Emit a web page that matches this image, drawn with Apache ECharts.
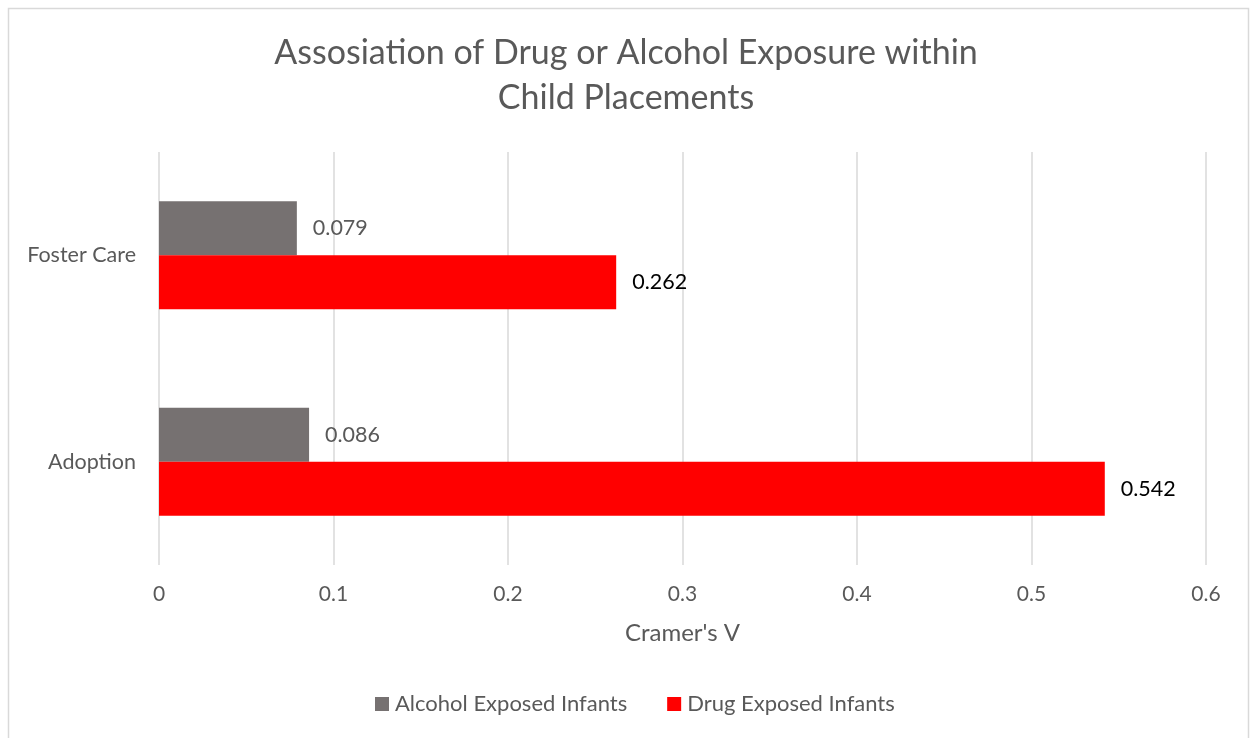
<!DOCTYPE html>
<html>
<head>
<meta charset="utf-8">
<script src="https://cdn.jsdelivr.net/npm/echarts@6/dist/echarts.min.js"></script>
<style>
html,body{margin:0;padding:0;background:#fff;}
#c{width:1252px;height:738px;}
</style>
</head>
<body>
<div id="c"></div>
<script>
const categories = ['Adoption', 'Foster Care'];
const seriesNames = ['Alcohol Exposed Infants', 'Drug Exposed Infants'];
const alcoholValues = [0.086, 0.079];
const drugValues = [0.542, 0.262];
const xTicks = [0, 0.1, 0.2, 0.3, 0.4, 0.5, 0.6];

const FONT = 'Lato';
const chart = echarts.init(document.getElementById('c'), null, {renderer: 'canvas'});
chart.setOption({
  backgroundColor: '#fff',
  animation: false,
  graphic: [{
    type: 'rect',
    shape: {x: 8.5, y: 8.5, width: 1240, height: 740},
    style: {fill: 'none', stroke: '#d9d9d9', lineWidth: 1.5},
    silent: true
  }],
  title: {
    text: 'Assosiation of Drug or Alcohol Exposure within\nChild Placements',
    left: 'center',
    top: 26,
    textStyle: {fontFamily: FONT, fontSize: 34, fontWeight: 'normal', color: '#595959', lineHeight: 45}
  },
  legend: {
    bottom: 18,
    left: 370,
    itemWidth: 14,
    itemHeight: 14,
    itemGap: 40,
    icon: 'rect',
    textStyle: {fontFamily: FONT, fontSize: 22, color: '#595959', padding: [0, 0, 0, 1]},
    data: seriesNames
  },
  grid: {left: 159, right: 46, top: 152, bottom: 173, containLabel: false},
  xAxis: {
    type: 'value',
    min: xTicks[0],
    max: xTicks[xTicks.length - 1],
    interval: 0.1,
    name: "Cramer's V",
    nameLocation: 'middle',
    nameGap: 56,
    nameTextStyle: {fontFamily: FONT, fontSize: 24, color: '#595959'},
    axisLine: {show: false},
    axisTick: {show: false},
    axisLabel: {fontFamily: FONT, fontSize: 21, color: '#595959', margin: 19},
    splitLine: {lineStyle: {color: '#d9d9d9', width: 1.5}}
  },
  yAxis: {
    type: 'category',
    data: categories,
    axisLine: {show: false},
    axisTick: {show: false},
    axisLabel: {fontFamily: FONT, fontSize: 21.5, color: '#595959', margin: 23}
  },
  series: [
    {
      name: seriesNames[0],
      type: 'bar',
      data: alcoholValues,
      barWidth: 54,
      barGap: '0%',
      itemStyle: {color: '#767171'},
      label: {show: true, position: 'right', distance: 16, fontFamily: FONT, fontSize: 21.5, color: '#595959'}
    },
    {
      name: seriesNames[1],
      type: 'bar',
      data: drugValues,
      barWidth: 54,
      barGap: '0%',
      itemStyle: {color: '#ff0000'},
      label: {show: true, position: 'right', distance: 16, fontFamily: FONT, fontSize: 21.5, color: '#000000'}
    }
  ]
});
</script>
</body>
</html>
